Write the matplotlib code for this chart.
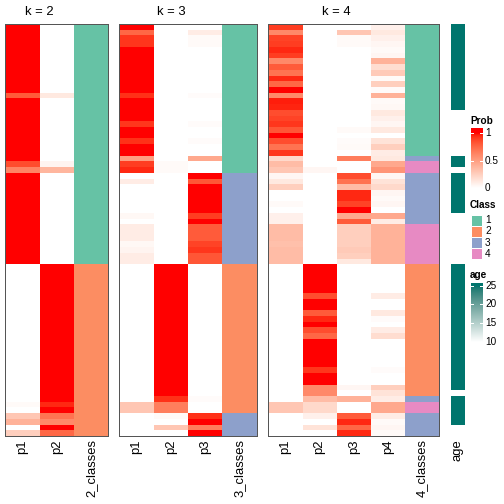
import numpy as np
import matplotlib
matplotlib.use('Agg')
import matplotlib.pyplot as plt
from matplotlib.colors import ListedColormap
from matplotlib.patches import Rectangle

plt.rcParams['font.family'] = ['Liberation Sans', 'DejaVu Sans']

# ---- data (72 samples, top to bottom) ----
k2_p1 = [1]*12 + [0.8] + [1]*11 + [0.85, 0.62] + [1]*16 + [0]*24 + [0.03, 0, 0.3, 0.4, 0, 0.25]
k2_p2 = [0]*12 + [0.12] + [0]*11 + [0.06, 0.38] + [0]*16 + [1]*24 + [0.95, 1, 0.7, 0.6, 1, 0.75]
k2_class = [1]*42 + [2]*30

k3_p1 = ([1.0, 0.75, 0.92, 0.92] + [1]*8 + [0.93] + [1]*4 + [0.92] + [1]*2 + [0.93] + [1]*2 + [0.5, 0.9, 0.95]
         + [0, 0.1] + [0]*5 + [0.04, 0] + [0.1]*3 + [0.04, 0.06, 0.1, 0.1]
         + [0]*24 + [0.3, 0.3] + [0]*4)
k3_p2 = [0]*24 + [0.03, 0.03] + [0]*16 + [1]*23 + [0.93, 0.65, 0.65, 0.03, 0, 0.3, 0]
k3_p3 = ([0, 0.1, 0.03, 0.03] + [0]*8 + [0.02] + [0]*4 + [0.02] + [0]*2 + [0.02] + [0]*2 + [0.45, 0, 0]
         + [1, 0.82] + [1]*5 + [0.9, 1] + [0.8]*3 + [0.88, 0.92, 0.82, 0.82]
         + [0]*23 + [0.02, 0, 0, 0.93, 1, 0.65, 1])
k3_class = [1]*26 + [3]*16 + [2]*26 + [3]*4

k4_p1 = ([0.9, 0.6, 0.88, 0.9, 0.95, 0.9, 0.6, 0.8, 0.7, 0.95, 0.75, 1.0, 0.6, 0.97, 0.96, 0.85,
          0.88, 0.92, 0.82, 1.0, 0.85, 0.7, 0.92]
         + [0.2, 0.35, 0.3, 0.05, 0.12, 0.25, 0, 0, 0.03, 0, 0.08, 0.08, 0.35, 0.35, 0.35, 0.33, 0.35, 0.35, 0.35]
         + [0]*23 + [0, 0.3, 0.3, 0, 0, 0, 0])
k4_p2 = ([0]*25 + [0.05] + [0]*16
         + [1, 1, 1, 1, 1, 0.85, 1, 1, 0.8, 0.95, 1, 0.85, 0.75, 1, 1, 1, 1, 1, 0.92, 1, 1, 0.6, 0.6]
         + [0.35, 0.2, 0.2, 0.08, 0, 0.15, 0])
k4_p3 = ([0, 0.3, 0.03, 0.03] + [0]*14 + [0.03, 0, 0.02, 0.03, 0]
         + [0.65, 0, 0, 0.85, 0.7, 0.35, 0.95, 0.95, 0.88, 1.0, 0.45, 0.8, 0.25, 0.25, 0.25, 0.25, 0.28, 0.25, 0.12]
         + [0]*21 + [0.05, 0]
         + [0.4, 0, 0, 0.8, 0.95, 0.75, 0.95])
k4_p4 = ([0.08, 0.12, 0.08, 0.05, 0.03, 0.05, 0.4, 0.18, 0.28, 0.03, 0.25, 0.02, 0.4, 0.03, 0.04, 0.12,
          0.08, 0.05, 0.12, 0.0, 0.15, 0.25, 0.1]
         + [0.12, 0.45, 0.55, 0.05, 0.15, 0.2, 0.05, 0.03, 0.05, 0, 0.45, 0.1, 0.4, 0.4, 0.4, 0.4, 0.4, 0.4, 0.4]
         + [0, 0, 0, 0, 0, 0.1, 0, 0, 0.12, 0.02, 0, 0.1, 0.18, 0, 0, 0, 0, 0, 0.02, 0, 0, 0.25, 0.15]
         + [0.1, 0.45, 0.45, 0.1, 0.03, 0.05, 0.03])
k4_class = [1]*23 + [3] + [4]*2 + [3]*9 + [4]*7 + [2]*23 + [3] + [4]*2 + [3]*4

nan = np.nan
age = [25]*15 + [nan]*8 + [25]*2 + [nan] + [25]*7 + [nan]*9 + [25]*22 + [nan] + [25]*5 + [nan]*2

class_levels = ['1', '2', '3', '4']
class_colors = ['#66C2A5', '#FC8D62', '#8DA0CB', '#E78AC3']
prob_ticks = [0, 0.5, 1]
prob_labels = ['0', '0.5', '1']
age_ticks = [10, 15, 20, 25]
age_color = '#00756D'


# white -> colour ramp interpolated in LAB space
def to_lab(rgb):
    c = np.asarray(rgb, float)
    lin = np.where(c <= 0.04045, c / 12.92, ((c + 0.055) / 1.055) ** 2.4)
    M = np.array([[0.4124, 0.3576, 0.1805], [0.2126, 0.7152, 0.0722], [0.0193, 0.1192, 0.9505]])
    xyz = M @ lin / np.array([0.95047, 1.0, 1.08883])
    d = 6 / 29
    f = np.where(xyz > d**3, np.cbrt(xyz), xyz / (3 * d**2) + 4 / 29)
    return np.array([116 * f[1] - 16, 500 * (f[0] - f[1]), 200 * (f[1] - f[2])])


def from_lab(lab):
    L, a, b = lab
    fy = (L + 16) / 116
    f = np.array([fy + a / 500, fy, fy - b / 200])
    d = 6 / 29
    xyz = np.where(f > d, f**3, 3 * d**2 * (f - 4 / 29)) * np.array([0.95047, 1.0, 1.08883])
    Minv = np.linalg.inv(np.array([[0.4124, 0.3576, 0.1805], [0.2126, 0.7152, 0.0722], [0.0193, 0.1192, 0.9505]]))
    lin = Minv @ xyz
    c = np.where(lin <= 0.0031308, 12.92 * lin, 1.055 * np.clip(lin, 0, None) ** (1 / 2.4) - 0.055)
    return np.clip(c, 0, 1)


def lab_ramp(c0, c1, n=256):
    l0, l1 = to_lab(matplotlib.colors.to_rgb(c0)), to_lab(matplotlib.colors.to_rgb(c1))
    return ListedColormap([from_lab(l0 + (l1 - l0) * t) for t in np.linspace(0, 1, n)])


prob_cmap = lab_ramp('white', 'red')
age_cmap = lab_ramp('white', age_color)
age_cmap.set_bad('white')
class_cmap = ListedColormap(class_colors)

W, H = 504, 504
fig = plt.figure(figsize=(7, 7), dpi=72)


def px_axes(x0, y0, x1, y1):
    return fig.add_axes([x0 / W, 1 - y1 / H, (x1 - x0) / W, (y1 - y0) / H])


TOP, BOT = 24, 436
nrow = len(age)
rows = np.arange(nrow + 1)

panels = [
    (5.3, 108.3, 'k = 2', [k2_p1, k2_p2], k2_class, '2_classes'),
    (119.3, 256.7, 'k = 3', [k3_p1, k3_p2, k3_p3], k3_class, '3_classes'),
    (268.3, 439.3, 'k = 4', [k4_p1, k4_p2, k4_p3, k4_p4], k4_class, '4_classes'),
]

for x0, x1, title, probs, cls, cname in panels:
    ax = px_axes(x0, TOP, x1, BOT)
    P = np.array(probs, float).T
    n = P.shape[1]
    ax.pcolormesh(np.arange(n + 1), rows, P, cmap=prob_cmap, vmin=0, vmax=1, antialiased=False)
    ax.pcolormesh([n, n + 1], rows, np.array(cls)[:, None], cmap=class_cmap, vmin=0.5, vmax=4.5,
                  antialiased=False)
    ax.set_xlim(0, n + 1)
    ax.set_ylim(nrow, 0)
    ax.set_xticks(np.arange(n + 1) + 0.5)
    ax.set_xticklabels(['p%d' % (i + 1) for i in range(n)] + [cname], rotation=90, fontsize=13)
    ax.set_yticks([])
    ax.tick_params(length=0, pad=3)
    for s in ax.spines.values():
        s.set_color('#555555')
        s.set_linewidth(1)
    ax.text(n / 2, -1.5, title, ha='center', va='baseline', fontsize=13)

# age annotation
axa = px_axes(451, TOP, 465, BOT)
axa.pcolormesh([0, 1], rows, np.ma.masked_invalid(np.array(age, float))[:, None],
               cmap=age_cmap, vmin=10, vmax=25, antialiased=False)
axa.set_xlim(0, 1)
axa.set_ylim(nrow, 0)
axa.set_xticks([0.5])
axa.set_xticklabels(['age'], rotation=90, fontsize=13)
axa.set_yticks([])
axa.tick_params(length=0, pad=3)
for s in axa.spines.values():
    s.set_visible(False)

# legends
lg = fig.add_axes([0, 0, 1, 1])
lg.axis('off')

# Prob
lg.text(470, 121, 'Prob', fontsize=10, fontweight='bold', va='center')
grad = np.clip(np.linspace(1.09, 0, 200), 0, 1)[:, None]
lg.imshow(grad, cmap=prob_cmap, vmin=0, vmax=1, extent=(470.5, 482, 188, 128), aspect='auto')
for v, lab in zip(prob_ticks, prob_labels):
    y = 188 - 55 * v
    lg.plot([470.5, 473], [y, y], color='white', lw=1)
    lg.plot([479.5, 482], [y, y], color='white', lw=1)
    lg.text(485, y, lab, fontsize=10, va='center')

# Class
lg.text(470, 205, 'Class', fontsize=10, fontweight='bold', va='center')
for i, (lab, col) in enumerate(zip(class_levels, class_colors)):
    y = 214.5 + 11.1 * i
    lg.add_patch(Rectangle((470.5, y), 11.5, 11.1, facecolor=col, edgecolor='white', lw=1))
    lg.text(485, y + 5.8, lab, fontsize=10, va='center')

# age
lg.text(470, 275, 'age', fontsize=10, fontweight='bold', va='center')
agrad = np.clip(np.linspace(25.7, 10, 200), 10, 25)[:, None]
lg.imshow(agrad, cmap=age_cmap, vmin=10, vmax=25, extent=(470.5, 482, 341.7, 283), aspect='auto')
for v in age_ticks:
    y = 341.7 - 3.733 * (v - 10)
    lg.plot([470.5, 473], [y, y], color='white', lw=1)
    lg.plot([479.5, 482], [y, y], color='white', lw=1)
    lg.text(485, y, str(v), fontsize=10, va='center')

lg.set_xlim(0, W)
lg.set_ylim(H, 0)

fig.savefig('out.png', dpi=72)
